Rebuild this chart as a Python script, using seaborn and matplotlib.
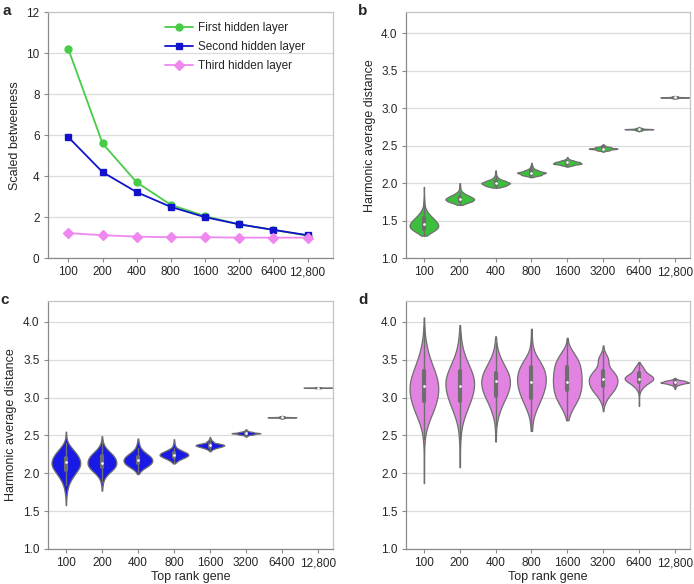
import matplotlib
matplotlib.use("Agg")
import matplotlib.pyplot as plt
import numpy as np
import pandas as pd
import seaborn as sns

# categories shared by all panels
ranks = ["100", "200", "400", "800", "1600", "3200", "6400", "12,800"]

# panel a: scaled betweenness per hidden layer
first_layer = [10.2, 5.6, 3.7, 2.6, 2.05, 1.65, 1.38, 1.1]
second_layer = [5.9, 4.2, 3.22, 2.5, 2.0, 1.65, 1.38, 1.12]
third_layer = [1.22, 1.12, 1.05, 1.02, 1.02, 1.0, 1.0, 1.0]

# violins: distance levels and how many genes sit at each level
b_levels = [
    [1.95, 1.85, 1.78, 1.72, 1.66, 1.62, 1.58, 1.54, 1.50, 1.46, 1.42, 1.38, 1.34, 1.30],
    [2.00, 1.96, 1.92, 1.88, 1.85, 1.82, 1.79, 1.76, 1.73, 1.71],
    [2.17, 2.13, 2.09, 2.06, 2.03, 2.00, 1.97, 1.95, 1.94],
    [2.27, 2.23, 2.20, 2.17, 2.14, 2.11, 2.08],
    [2.35, 2.32, 2.30, 2.28, 2.26, 2.24, 2.22],
    [2.52, 2.50, 2.48, 2.46, 2.44, 2.42],
    [2.75, 2.735, 2.72, 2.705, 2.69],
    [3.165, 3.155, 3.145, 3.135, 3.125],
]
b_counts = [
    [1, 1, 2, 3, 5, 9, 16, 25, 34, 41, 44, 36, 20, 5],
    [1, 2, 3, 8, 18, 32, 44, 38, 16, 2],
    [1, 2, 4, 10, 28, 44, 30, 8, 1],
    [1, 3, 6, 20, 44, 30, 3],
    [1, 6, 20, 38, 44, 18, 2],
    [1, 6, 24, 44, 20, 2],
    [1, 10, 44, 10, 1],
    [1, 10, 44, 10, 1],
]

c_levels = [
    [2.55, 2.48, 2.40, 2.35, 2.30, 2.25, 2.20, 2.15, 2.10, 2.05, 2.00, 1.95, 1.90, 1.85, 1.80, 1.75, 1.70, 1.64, 1.58],
    [2.49, 2.43, 2.38, 2.33, 2.28, 2.23, 2.18, 2.13, 2.08, 2.03, 1.98, 1.93, 1.88, 1.83, 1.77],
    [2.46, 2.42, 2.38, 2.34, 2.30, 2.26, 2.22, 2.18, 2.14, 2.10, 2.06, 2.02, 1.99],
    [2.45, 2.41, 2.37, 2.33, 2.30, 2.27, 2.24, 2.21, 2.18, 2.15, 2.13],
    [2.48, 2.45, 2.42, 2.39, 2.37, 2.35, 2.33, 2.31, 2.29],
    [2.58, 2.56, 2.545, 2.53, 2.515, 2.50, 2.485],
    [2.76, 2.75, 2.74, 2.73, 2.72],
    [3.14, 3.135, 3.13, 3.125, 3.12],
]
c_counts = [
    [1, 2, 6, 14, 24, 34, 40, 44, 44, 36, 28, 20, 13, 8, 5, 3, 2, 1, 1],
    [1, 2, 5, 12, 24, 36, 42, 44, 40, 28, 15, 7, 3, 2, 1],
    [1, 2, 4, 7, 14, 26, 38, 44, 42, 32, 16, 5, 1],
    [1, 2, 4, 10, 22, 38, 44, 32, 16, 6, 1],
    [1, 4, 12, 30, 44, 30, 14, 5, 1],
    [1, 6, 20, 44, 24, 6, 1],
    [1, 8, 44, 8, 1],
    [1, 8, 44, 8, 1],
]

d_levels = [
    [4.06, 3.95, 3.85, 3.75, 3.65, 3.55, 3.45, 3.35, 3.25, 3.15, 3.05, 2.95, 2.85, 2.75, 2.65, 2.55, 2.45, 2.35, 2.20, 2.05, 1.87],
    [3.96, 3.85, 3.75, 3.65, 3.55, 3.45, 3.35, 3.25, 3.15, 3.05, 2.95, 2.85, 2.75, 2.65, 2.55, 2.45, 2.35, 2.20, 2.08],
    [3.81, 3.72, 3.62, 3.52, 3.42, 3.32, 3.22, 3.12, 3.02, 2.92, 2.82, 2.72, 2.62, 2.52, 2.42],
    [3.91, 3.80, 3.70, 3.60, 3.50, 3.40, 3.30, 3.20, 3.10, 3.00, 2.90, 2.80, 2.70, 2.60, 2.56],
    [3.79, 3.70, 3.60, 3.50, 3.40, 3.30, 3.20, 3.10, 3.00, 2.90, 2.80, 2.70],
    [3.69, 3.62, 3.55, 3.50, 3.45, 3.40, 3.35, 3.30, 3.25, 3.20, 3.15, 3.10, 3.05, 3.00, 2.95, 2.90, 2.82],
    [3.47, 3.43, 3.40, 3.36, 3.32, 3.28, 3.24, 3.20, 3.16, 3.12, 3.08, 3.02, 2.95, 2.89],
    [3.26, 3.24, 3.22, 3.20, 3.18, 3.16, 3.14, 3.12],
]
d_counts = [
    [1, 1, 2, 5, 9, 15, 22, 32, 39, 43, 42, 37, 30, 20, 11, 5, 2, 1, 1, 1, 1],
    [1, 2, 4, 8, 14, 24, 34, 42, 42, 38, 30, 22, 13, 7, 3, 2, 1, 1, 1],
    [1, 2, 6, 14, 26, 38, 43, 40, 32, 20, 12, 5, 2, 1, 1],
    [1, 1, 3, 7, 22, 36, 42, 43, 38, 30, 20, 10, 4, 2, 1],
    [1, 2, 18, 33, 40, 42, 43, 41, 35, 22, 9, 2],
    [1, 3, 14, 17, 13, 16, 28, 38, 42, 41, 38, 32, 22, 13, 7, 3, 1],
    [1, 4, 12, 15, 22, 40, 43, 28, 16, 8, 3, 1, 1, 1],
    [1, 8, 30, 43, 20, 6, 2, 1],
]

layer_names = ["First hidden layer", "Second hidden layer", "Third hidden layer"]
green = "#3cbf3c"
blue = "#1a1ae6"
violet = "#e283e2"
line_colors = ["#47cc47", "#1212cc", "#ee88ee"]


def long_table(levels, counts):
    rows = []
    for r, lv, ct in zip(ranks, levels, counts):
        for v in np.repeat(lv, ct):
            rows.append((r, v))
    return pd.DataFrame(rows, columns=["rank", "value"])


def style_axes(ax):
    for side in ["left", "bottom"]:
        ax.spines[side].set_color("#8a8a8a")
    for side in ["top", "right"]:
        ax.spines[side].set_color("#c4c4c4")
    for s in ax.spines.values():
        s.set_linewidth(0.9)
    ax.yaxis.grid(True, color="#dcdcdc", linewidth=0.9)
    ax.xaxis.grid(False)
    ax.set_axisbelow(True)
    ax.tick_params(axis="both", which="both", direction="out", length=3,
                   width=0.8, color="#8a8a8a", labelsize=8.5, pad=3,
                   left=True, bottom=True)


sns.set_theme(style="white")
plt.rcParams["font.family"] = ["Liberation Sans", "DejaVu Sans"]

fig = plt.figure(figsize=(6.94, 5.84), dpi=100)
ax_a = fig.add_axes([0.069, 0.558, 0.411, 0.421])
ax_b = fig.add_axes([0.585, 0.558, 0.409, 0.421])
ax_c = fig.add_axes([0.069, 0.060, 0.411, 0.425])
ax_d = fig.add_axes([0.585, 0.060, 0.409, 0.425])

# panel a
df_a = pd.DataFrame({
    "rank": ranks * 3,
    "value": first_layer + second_layer + third_layer,
    "layer": [layer_names[0]] * 8 + [layer_names[1]] * 8 + [layer_names[2]] * 8,
})
sns.pointplot(data=df_a, x="rank", y="value", hue="layer", order=ranks,
              hue_order=layer_names, palette=line_colors,
              markers=["o", "s", "D"], markersize=5, linewidth=1.3,
              ax=ax_a)
ax_a.set_ylim(0, 12)
ax_a.set_yticks(range(0, 13, 2))
ax_a.set_xlim(-0.6, 7.75)
ax_a.set_xlabel("")
ax_a.set_ylabel("Scaled betweeness", fontsize=9)
style_axes(ax_a)
ax_a.legend(loc="upper left", bbox_to_anchor=(0.375, 1.003), frameon=False,
            fontsize=8.5, handlelength=2.3, handletextpad=0.45, labelspacing=0.6)

# panels b-d
panels = [(ax_b, b_levels, b_counts, green),
          (ax_c, c_levels, c_counts, blue),
          (ax_d, d_levels, d_counts, violet)]
for ax, lv, ct, col in panels:
    sns.violinplot(data=long_table(lv, ct), x="rank", y="value", order=ranks,
                   color=col, saturation=1, inner="box", cut=0,
                   density_norm="width", width=0.8, linewidth=0.9,
                   linecolor="#6e6e6e",
                   inner_kws=dict(box_width=3, whis_width=1, marker="."),
                   ax=ax)
    ax.set_ylim(1.0, 4.28)
    ax.set_yticks([1.0, 1.5, 2.0, 2.5, 3.0, 3.5, 4.0])
    ax.set_yticklabels(["1.0", "1.5", "2.0", "2.5", "3.0", "3.5", "4.0"])
    ax.set_xlim(-0.5, 7.42)
    ax.set_xlabel("")
    ax.set_ylabel("")
    style_axes(ax)

ax_b.set_ylabel("Harmonic average distance", fontsize=9)
ax_c.set_ylabel("Harmonic average distance", fontsize=9)
ax_c.set_xlabel("Top rank gene", fontsize=9, labelpad=1)
ax_d.set_xlabel("Top rank gene", fontsize=9, labelpad=1)

for txt, x, y in [("a", 0.004, 0.994), ("b", 0.516, 0.994), ("c", 0.0, 0.499), ("d", 0.516, 0.499)]:
    fig.text(x, y, txt, fontsize=11, fontweight="bold", va="top", ha="left")

fig.savefig("out.png", dpi=100)
